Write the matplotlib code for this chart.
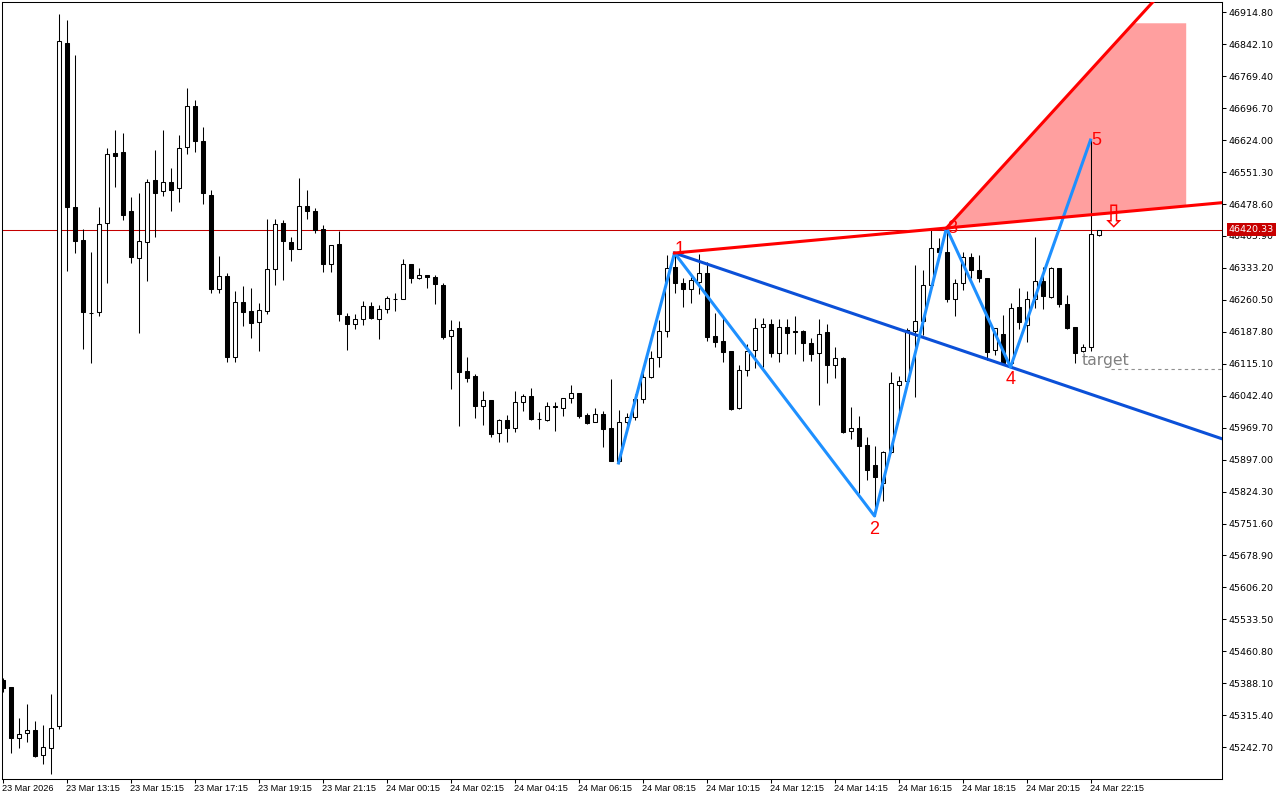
import numpy as np
import matplotlib.pyplot as plt
from matplotlib.transforms import blended_transform_factory

# 15 min candles, 23 Mar 11:15 -> 24 Mar 22:15
opens = [45395.5, 45379.6, 45264.2, 45274.3, 45281.8, 45224.2, 45240.1, 45290.9, 46845.0, 46471.8,
         46396.7, 46231.7, 46232.2, 46434.7, 46594.7, 46596.3, 46462.7, 46355.1, 46391.5, 46532.5,
         46507.5, 46528.0, 46514.3, 46607.6, 46700.9, 46621.3, 46498.4, 46284.5, 46314.1, 46129.8,
         46254.9, 46234.5, 46209.4, 46234.5, 46330.0, 46434.7, 46392.2, 46375.5, 46473.4, 46462.0,
         46421.1, 46342.8, 46386.9, 46223.1, 46204.9, 46216.3, 46245.8, 46216.3, 46239.0, 46261.8,
         46261.8, 46341.4, 46309.5, 46316.4, 46312.5, 46293.6, 46177.6, 46195.8, 46097.9, 46086.6,
         46018.3, 46031.9, 45956.9, 45986.5, 45968.2, 46027.4, 46041.0, 45990.1, 45987.8, 46019.0,
         46013.8, 46036.5, 46047.9, 45997.8, 45981.9, 46000.1, 45968.2, 45894.5, 45981.9, 45993.3,
         46034.2, 46084.3, 46129.8, 46189.0, 46334.6, 46298.2, 46285.9, 46301.8, 46320.9, 46178.3,
         46166.9, 46143.4, 46013.8, 46100.2, 46145.7, 46198.1, 46204.9, 46138.9, 46198.1, 46189.6,
         46189.6, 46161.7, 46138.9, 46186.7, 46111.6, 46127.5, 45961.4, 45968.2, 45929.6, 45884.1,
         45843.1, 45914.3, 46067.4, 46076.6, 46190.3, 46211.7, 46293.6, 46377.8, 46368.7, 46263.1,
         46298.2, 46358.7, 46328.4, 46309.5, 46146.4, 46182.8, 46116.1, 46243.6, 46203.3, 46262.5,
         46302.7, 46267.7, 46333.0, 46251.1, 46198.7, 46144.1, 46153.9, 46408.8]
highs = [45400.1, 45379.6, 45309.1, 45340.9, 45302.2, 45293.1, 45363.7, 46910.9, 46897.3, 46817.7,
         46421.7, 46369.4, 46471.8, 46606.0, 46647.0, 46640.2, 46494.5, 46503.6, 46535.5, 46601.5,
         46647.0, 46560.5, 46635.6, 46742.6, 46715.3, 46653.8, 46510.5, 46360.3, 46321.6, 46280.7,
         46292.0, 46287.5, 46253.4, 46444.5, 46444.5, 46442.2, 46403.5, 46537.8, 46510.5, 46469.5,
         46430.8, 46384.6, 46417.2, 46230.6, 46228.3, 46257.9, 46255.6, 46248.1, 46268.6, 46276.1,
         46353.5, 46342.1, 46333.0, 46316.4, 46317.1, 46298.2, 46214.7, 46212.4, 46130.5, 46091.8,
         46053.1, 46031.9, 45989.4, 45998.5, 46053.1, 46046.3, 46059.9, 46005.3, 46028.1, 46028.1,
         46036.5, 46066.8, 46047.9, 46003.1, 46014.4, 46007.6, 46080.4, 46009.9, 46003.1, 46046.3,
         46112.3, 46144.1, 46214.7, 46362.6, 46367.1, 46310.2, 46312.5, 46364.8, 46346.6, 46230.6,
         46219.2, 46143.4, 46112.3, 46160.1, 46219.2, 46219.2, 46216.9, 46216.9, 46216.9, 46223.8,
         46191.9, 46173.7, 46216.9, 46205.6, 46153.2, 46130.5, 46016.7, 45996.2, 45948.4, 45928.0,
         45916.6, 46096.3, 46087.2, 46196.5, 46339.8, 46328.4, 46419.5, 46401.3, 46424.0, 46308.0,
         46369.4, 46367.1, 46362.6, 46310.2, 46195.8, 46226.0, 46253.4, 46287.5, 46280.7, 46403.5,
         46335.3, 46335.3, 46333.0, 46271.6, 46198.7, 46160.1, 46624.2, 46420.33]
lows = [45368.2, 45229.4, 45240.8, 45254.5, 45220.3, 45204.4, 45181.6, 45284.0, 46326.9, 46367.1,
        46148.7, 46116.8, 46223.8, 46298.9, 46517.3, 46442.2, 46344.4, 46185.1, 46303.4, 46403.5,
        46496.8, 46462.7, 46483.2, 46592.4, 46596.9, 46478.6, 46276.1, 46276.1, 46119.1, 46119.1,
        46201.0, 46173.7, 46144.1, 46228.3, 46294.3, 46305.7, 46348.9, 46375.5, 46444.5, 46412.6,
        46323.9, 46323.9, 46212.4, 46146.4, 46194.2, 46203.3, 46216.9, 46171.4, 46230.6, 46235.1,
        46261.8, 46298.9, 46308.0, 46287.5, 46251.1, 46171.4, 46057.7, 45973.5, 46073.6, 45991.7,
        45975.8, 45948.4, 45937.1, 45937.1, 45959.8, 46007.6, 45987.1, 45966.7, 45984.9, 45962.1,
        45996.2, 46025.8, 45991.7, 45978.0, 45981.9, 45925.7, 45893.8, 45889.3, 45971.2, 45987.1,
        46025.8, 46082.7, 46107.7, 46176.0, 46276.1, 46244.3, 46253.4, 46273.8, 46166.9, 46153.2,
        46119.1, 46009.9, 46012.2, 46087.2, 46105.5, 46107.7, 46130.5, 46119.1, 46137.3, 46137.3,
        46121.4, 46121.4, 46021.3, 46071.3, 46082.7, 45957.6, 45943.9, 45821.0, 45850.6, 45768.7,
        45802.8, 45912.0, 45998.5, 46071.3, 46039.5, 46180.5, 46289.8, 46358.0, 46255.6, 46223.8,
        46282.9, 46310.2, 46301.1, 46123.7, 46135.0, 46116.1, 46107.7, 46194.2, 46164.6, 46242.0,
        46239.7, 46264.7, 46244.3, 46194.2, 46116.8, 46141.8, 46144.1, 46406.5]
closes = [45377.3, 45263.6, 45272.0, 45281.8, 45223.3, 45242.4, 45285.6, 46848.8, 46472.5, 46395.1,
          46233.6, 46230.6, 46432.4, 46591.7, 46588.5, 46454.3, 46358.7, 46393.7, 46528.0, 46503.0,
          46528.0, 46511.2, 46605.4, 46700.9, 46621.3, 46503.0, 46284.5, 46314.1, 46129.8, 46254.9,
          46233.6, 46208.5, 46236.7, 46330.0, 46432.4, 46393.7, 46375.5, 46473.4, 46463.4, 46418.8,
          46342.8, 46384.6, 46227.6, 46204.9, 46216.3, 46245.8, 46219.9, 46239.0, 46264.1, 46262.8,
          46341.4, 46309.5, 46316.4, 46311.8, 46295.9, 46176.7, 46191.2, 46097.0, 46083.4, 46018.3,
          46031.9, 45956.0, 45986.5, 45968.2, 46027.4, 46041.0, 45990.1, 45988.7, 46018.3, 46016.7,
          46036.5, 46047.9, 45996.9, 45981.0, 46000.1, 45967.3, 45894.5, 45981.9, 45993.3, 46034.2,
          46084.3, 46127.5, 46189.0, 46332.3, 46298.2, 46285.9, 46306.4, 46320.9, 46176.7, 46165.3,
          46141.2, 46012.2, 46100.2, 46143.4, 46195.8, 46204.9, 46138.9, 46198.1, 46184.4, 46186.7,
          46161.7, 46136.6, 46182.1, 46111.6, 46127.5, 45959.8, 45968.2, 45928.7, 45872.7, 45858.1,
          45914.3, 46070.6, 46076.6, 46192.6, 46211.7, 46293.6, 46377.8, 46368.7, 46263.1, 46298.2,
          46358.7, 46328.4, 46310.9, 46142.5, 46195.8, 46116.1, 46241.3, 46209.4, 46261.8, 46302.7,
          46269.3, 46333.0, 46250.4, 46197.2, 46138.9, 46153.9, 46409.7, 46420.33]

time_ticks = [0, 8, 16, 24, 32, 40, 48, 56, 64, 72, 80, 88, 96, 104, 112, 120, 128, 136]
time_labels = ['23 Mar 2026', '23 Mar 13:15', '23 Mar 15:15', '23 Mar 17:15', '23 Mar 19:15',
               '23 Mar 21:15', '24 Mar 00:15', '24 Mar 02:15', '24 Mar 04:15', '24 Mar 06:15',
               '24 Mar 08:15', '24 Mar 10:15', '24 Mar 12:15', '24 Mar 14:15', '24 Mar 16:15',
               '24 Mar 18:15', '24 Mar 20:15', '24 Mar 22:15']
price_ticks = [46914.80, 46842.10, 46769.40, 46696.70, 46624.00, 46551.30, 46478.60, 46405.90,
               46333.20, 46260.50, 46187.80, 46115.10, 46042.40, 45969.70, 45897.00, 45824.30,
               45751.60, 45678.90, 45606.20, 45533.50, 45460.80, 45388.10, 45315.40, 45242.70]

last_price = 46420.33
target_price = 46102.5
target_start = 138.6
zone_end = 147.9
zone_top = 46891.0

# wolfe wave points: start, 1..5 (candle index)
wave_idx = [77, 84, 109, 118, 126, 136]
wave_is_high = [False, True, False, True, False, True]
wave_names = ['', '1', '2', '3', '4', '5']

x = np.arange(len(opens))
o = np.array(opens); c = np.array(closes)
wave_x = np.array(wave_idx)
wave_y = np.array([highs[i] if h else lows[i] for i, h in zip(wave_idx, wave_is_high)])

fig = plt.figure(figsize=(12.8, 8), dpi=100)
ax = fig.add_axes([2.3 / 1280, 21.5 / 800, 1220 / 1280, 776.2 / 800])
x_right = 152.475
ax.set_xlim(-0.025, x_right)
ax.set_ylim(45171.4, 46937.6)

# shaded zone between 1-3 line and the parallel to 2-4 through point 3
s13 = (wave_y[3] - wave_y[1]) / (wave_x[3] - wave_x[1])
s14 = (wave_y[4] - wave_y[1]) / (wave_x[4] - wave_x[1])
s24 = (wave_y[4] - wave_y[2]) / (wave_x[4] - wave_x[2])
zx = np.linspace(wave_x[3], zone_end, 300)
z_low = wave_y[1] + s13 * (zx - wave_x[1])
z_up = np.minimum(wave_y[3] + s24 * (zx - wave_x[3]), zone_top)
ax.fill_between(zx, z_low, z_up, color='#FF9F9F', lw=0, zorder=1)

ax.axhline(last_price, color='#C40000', lw=0.75, zorder=2)

# candles
body_col = ['white' if cc >= oo else 'black' for oo, cc in zip(o, c)]
ax.vlines(x, lows, highs, color='black', lw=0.75, zorder=3)
ax.bar(x, np.abs(c - o), bottom=np.minimum(o, c), width=0.5, color=body_col,
       edgecolor='black', lw=0.75, zorder=4)

# wave labels (under the lines)
offs = [(0, 0), (3.6, 2.2), (0, -9.6), (4.3, 0), (0, -8.9), (4.0, 0)]
for i in range(1, 6):
    ax.annotate(wave_names[i], (wave_x[i], wave_y[i]), xytext=offs[i], textcoords='offset points',
                ha='center', va='center', color='red', fontsize=13, family='Liberation Sans', zorder=5)

# lines
ax.plot([wave_x[1], x_right], [wave_y[1], wave_y[1] + s14 * (x_right - wave_x[1])],
        color='#0B50D8', lw=2.2, zorder=6)
ax.plot(wave_x, wave_y, color='#1E90FF', lw=2.2, zorder=7)
ax.plot([wave_x[1], x_right], [wave_y[1], wave_y[1] + s13 * (x_right - wave_x[1])],
        color='red', lw=2.2, zorder=8)
ax.plot([wave_x[3], x_right], [wave_y[3], wave_y[3] + s24 * (x_right - wave_x[3])],
        color='red', lw=2.2, zorder=8)

# target + sell arrow
ax.plot([target_start, x_right], [target_price, target_price], color='#909090', lw=0.8,
        ls=(0, (3, 3)), zorder=5)
ax.text(134.9, 46112.0, 'target', color='#808080', fontsize=11.3, ha='left', va='baseline', zorder=5)
ax.text(138.9, 46446.0, '\u21e9', color='red', fontsize=22, ha='center', va='center', zorder=9)

# axes look
for sp in ax.spines.values():
    sp.set_linewidth(0.75)
    sp.set_color('black')
ax.yaxis.tick_right()
ax.set_yticks(price_ticks)
ax.set_yticklabels(['%.2f' % p for p in price_ticks])
ax.tick_params(axis='y', direction='out', length=2.9, width=0.75, pad=1.5, labelsize=6.8)
ax.set_xticks(time_ticks)
ax.set_xticklabels(time_labels, ha='left', fontsize=6.6, family='Liberation Sans')
ax.tick_params(axis='x', direction='out', length=2.9, width=0.75, pad=1)

trans = blended_transform_factory(ax.transAxes, ax.transData)
ax.annotate('%.2f' % last_price, xy=(1, last_price), xycoords=trans, xytext=(4.6, 0),
            textcoords='offset points', ha='left', va='center', color='white', fontsize=6.8,
            bbox=dict(boxstyle='square,pad=0.2', fc='#C80000', ec='none'),
            annotation_clip=False, zorder=10)

fig.savefig('out.png', dpi=100)
